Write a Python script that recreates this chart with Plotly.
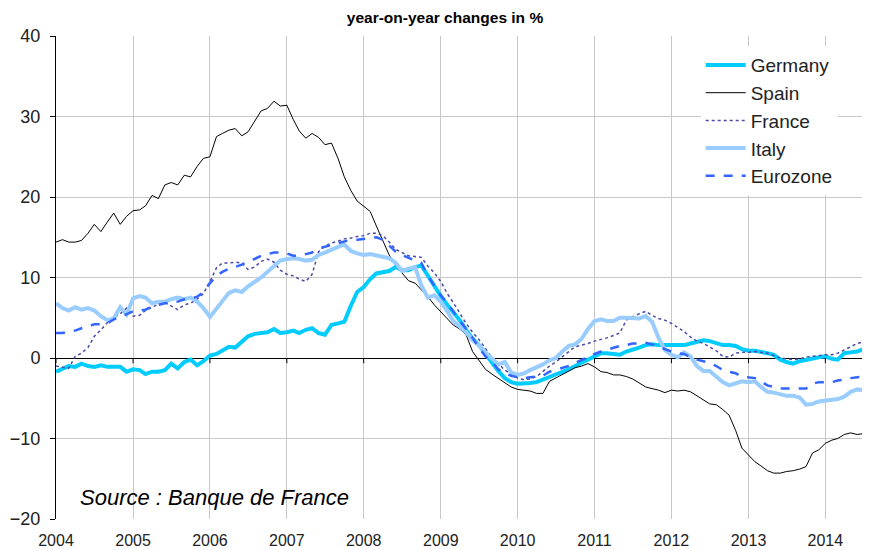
import pandas as pd
import plotly.graph_objects as go

start_month = "2004-01-01"
year_ticks = [2004, 2005, 2006, 2007, 2008, 2009, 2010, 2011, 2012, 2013, 2014]

germany = [
    -1.7, -1.3, -1.0, -1.1, -0.7, -1.0, -1.1, -0.9, -1.1, -1.1, -1.1, -1.7,
    -1.4, -1.5, -2.0, -1.7, -1.7, -1.5, -0.7, -1.3, -0.5, -0.2, -0.9, -0.4,
    0.3, 0.5, 0.9, 1.4, 1.3, 2.1, 2.7, 3.0, 3.1, 3.2, 3.6, 3.1,
    3.2, 3.4, 3.1, 3.5, 3.7, 3.1, 2.9, 4.1, 4.3, 4.5, 6.5, 8.2,
    8.8, 9.8, 10.5, 10.6, 10.8, 11.3, 10.9, 10.9, 11.3, 11.5, 10.2, 8.8,
    7.7, 6.6, 5.7, 4.7, 3.5, 2.4, 1.6, 0.5, -0.4, -1.6, -2.5, -3.0,
    -3.2, -3.2, -3.1, -3.0, -2.7, -2.3, -2.0, -1.7, -1.4, -1.0, -0.6, -0.3,
    0.2, 0.6, 0.6, 0.5, 0.4, 0.8, 1.0, 1.3, 1.6, 1.7, 1.6, 1.6,
    1.5, 1.5, 1.6, 1.8, 2.0, 2.2, 2.1, 1.9, 1.6, 1.6, 1.5, 1.1,
    0.9, 0.9, 0.8, 0.6, 0.4, -0.2, -0.5, -0.7, -0.4, -0.2, 0.0, 0.1,
    0.2, -0.1, -0.2, 0.6, 0.7, 0.8, 1.1, 1.1,
]

spain = [
    14.4, 14.7, 14.4, 14.4, 14.6, 15.5, 16.6, 15.7, 16.9, 18.0, 16.6, 17.6,
    18.3, 18.4, 18.9, 20.2, 19.8, 21.5, 21.8, 21.5, 22.7, 22.5, 23.8, 24.8,
    25.0, 27.5, 27.9, 28.3, 28.5, 27.6, 28.1, 29.4, 30.7, 31.0, 31.9, 31.3,
    31.4, 29.6, 28.2, 27.3, 27.9, 27.4, 26.5, 26.7, 24.8, 22.5, 20.8, 19.5,
    18.8, 18.2, 16.4, 14.6, 12.8, 11.5, 10.6, 9.6, 9.3, 8.5, 7.6, 6.6,
    5.7, 4.8, 4.1, 3.6, 2.9, 0.8, -0.3, -1.4, -2.0, -2.5, -3.0, -3.6,
    -3.9, -4.0, -4.1, -4.4, -4.4, -2.9, -2.5, -2.0, -1.6, -1.2, -1.0, -0.7,
    -1.1, -1.7, -1.8, -2.1, -2.1, -2.3, -2.6, -3.1, -3.6, -3.8, -4.0, -4.3,
    -4.0, -4.1, -4.0, -4.2, -4.7, -5.3, -5.7, -5.8, -6.4, -7.1, -9.0, -11.2,
    -12.0, -12.9, -13.4, -14.0, -14.3, -14.3, -14.1, -14.0, -13.8, -13.5, -11.8, -11.4,
    -10.6, -10.2, -10.0, -9.5, -9.3, -9.5, -9.4, -9.6,
]

france = [
    -1.0, -1.2, -1.3, 0.2, 0.6, 1.3, 2.7, 3.5, 4.4, 5.0, 5.5, 6.2,
    5.2, 5.3, 5.9, 6.3, 6.7, 6.9, 6.5, 6.0, 6.6, 6.8, 7.3, 8.0,
    9.5, 11.2, 11.8, 11.8, 11.9, 11.8, 11.0, 11.3, 12.0, 12.3, 11.9, 10.9,
    10.4, 10.2, 9.8, 9.5, 10.4, 13.2, 13.9, 14.3, 14.5, 14.8, 14.9, 15.1,
    15.2, 15.5, 15.5, 15.2, 14.4, 13.5, 13.1, 12.7, 12.6, 12.5, 11.4, 10.6,
    9.5, 8.0, 6.9, 5.5, 4.3, 3.2, 2.3, 1.2, 0.0, -0.7, -1.5, -2.0,
    -2.5, -2.7, -2.6, -2.3, -1.6, -1.0, -0.5, 0.2, 0.8, 1.4, 1.6, 1.8,
    2.1, 2.3, 2.5, 2.8, 3.1, 4.7, 5.1, 5.5, 5.8, 5.3, 4.9, 4.7,
    4.3, 3.8, 3.3, 2.6, 2.1, 1.8, 1.4, 0.9, 0.2, 0.1, 0.6, 0.7,
    0.7, 0.8, 0.7, 0.6, 0.3, 0.0, -0.1, -0.2, -0.1, 0.1, 0.2, 0.3,
    0.4, 0.4, 0.6, 1.0, 1.4, 1.8, 2.0, 2.1,
]

italy = [
    6.8, 6.2, 5.9, 6.3, 6.0, 6.2, 5.9, 5.2, 4.7, 4.9, 6.3, 5.4,
    7.4, 7.7, 7.5, 6.8, 7.0, 7.0, 7.3, 7.5, 7.3, 7.5, 7.0, 6.2,
    5.1, 6.2, 7.2, 8.1, 8.4, 8.2, 8.9, 9.4, 10.0, 10.7, 11.5, 12.1,
    12.3, 12.4, 12.3, 12.1, 12.2, 12.8, 13.1, 13.5, 13.8, 14.1, 13.3, 13.0,
    12.8, 12.9, 12.7, 12.5, 12.4, 11.8, 10.8, 11.1, 11.3, 9.0, 7.5, 7.8,
    7.0, 5.8, 4.6, 3.9, 3.2, 2.2, 1.6, 0.7, 0.0, -0.8, -0.5, -1.8,
    -2.1, -1.9, -1.5, -1.2, -0.8, -0.3, 0.0, 0.8, 1.5, 1.7, 2.4, 3.6,
    4.6, 4.8, 4.6, 4.6, 5.0, 5.0, 4.9, 4.9, 5.2, 4.5, 2.5, 1.0,
    0.4, 0.1, 0.7, 0.2, -1.0, -1.6, -1.6, -2.3, -3.0, -3.4, -3.2, -2.9,
    -3.0, -2.9, -3.6, -4.2, -4.3, -4.5, -4.7, -4.7, -4.9, -5.8, -5.7, -5.4,
    -5.3, -5.3, -5.1, -4.8, -4.2, -3.9, -4.0, -3.9,
]

eurozone = [
    3.1, 3.1, 3.3, 3.4, 3.7, 3.9, 4.2, 4.2, 4.3, 4.8, 5.1, 5.4,
    5.8, 5.9, 6.0, 6.4, 6.6, 6.8, 6.9, 7.0, 7.3, 7.4, 7.6, 8.2,
    9.3, 10.2, 10.7, 11.1, 11.3, 11.6, 12.0, 12.3, 12.7, 12.9, 13.1, 13.1,
    13.0, 12.7, 12.7, 12.9, 13.1, 13.6, 13.8, 14.1, 14.3, 14.5, 14.7, 14.7,
    14.8, 14.9, 15.0, 14.7, 14.0, 13.2, 12.8, 12.4, 12.1, 11.8, 10.2, 9.0,
    7.8, 6.8, 5.8, 4.8, 3.6, 2.5, 1.3, 0.2, -0.5, -1.4, -1.9, -2.2,
    -2.4, -2.5, -2.4, -2.3, -2.2, -1.7, -1.5, -1.3, -1.0, -0.6, -0.2, 0.2,
    0.5, 0.8, 1.0, 1.2, 1.5, 1.6, 1.8, 1.8, 1.9, 1.7, 1.4, 1.1,
    0.8, 0.6, 0.5, 0.1, -0.2, -0.4, -0.6, -1.0, -1.5, -1.7, -1.9, -2.3,
    -2.4, -2.5, -2.9, -3.4, -3.6, -3.8, -3.8, -3.8, -3.8, -3.8, -3.2, -3.0,
    -3.0, -3.0, -2.8, -2.7, -2.5, -2.4, -2.3, -2.1,
]

def months(n):
    return pd.date_range(start_month, periods=n, freq="MS")

FONT = "Liberation Sans, Arial, sans-serif"

fig = go.Figure()
series = [
    ("Germany", germany, dict(color="#00CCFF", width=4)),
    ("Spain", spain, dict(color="#000000", width=1)),
    ("France", france, dict(color="#4B4BA8", width=1.5, dash="dot")),
    ("Italy", italy, dict(color="#99CCFF", width=4)),
    ("Eurozone", eurozone, dict(color="#3366FF", width=2.5, dash="dash")),
]
for name, vals, line in series:
    fig.add_trace(go.Scatter(x=months(len(vals)), y=vals, name=name, mode="lines",
                             line=line, legendgroup=name))

tick_dates = [pd.Timestamp(f"{y}-01-01") for y in year_ticks]
shapes = [
    dict(type="line", xref="x", yref="y", x0=d, x1=d, y0=0, y1=-0.65,
         line=dict(color="black", width=1))
    for d in tick_dates
]

# the page body adds an 8px offset, so the figure is sized to fill the rest of the window
fig.update_layout(
    width=862, height=542,
    margin=dict(l=48, r=0, t=28, b=31),
    paper_bgcolor="white", plot_bgcolor="white",
    title=dict(text="<b>year-on-year changes in %</b>", x=0.393, xanchor="left",
               y=0.983, yanchor="middle", font=dict(family=FONT, size=15.5, color="#000000")),
    font=dict(family=FONT, color="#000000"),
    showlegend=True,
    legend=dict(x=0.792, y=0.979, xanchor="left", yanchor="top", bgcolor="white",
                font=dict(family=FONT, size=19, color="#222222"), itemwidth=40,
                tracegroupgap=0),
    shapes=shapes,
    annotations=[dict(text="<i>Source : Banque de France</i>", xref="paper", yref="y",
                      x=0.027, y=-17.3, xanchor="left", yanchor="middle", showarrow=False,
                      font=dict(family=FONT, size=22, color="#000000"))],
)
fig.update_xaxes(
    type="date",
    range=[pd.Timestamp(start_month), pd.Timestamp("2014-08-01")],
    tickvals=tick_dates, ticktext=[str(y) for y in year_ticks],
    showgrid=True, gridcolor="#C8C8C8", gridwidth=1,
    showline=False, ticks="", zeroline=False,
    tickfont=dict(family=FONT, size=16, color="#222222"),
    ticklabelstandoff=10,
)
fig.update_yaxes(
    range=[-20, 40], dtick=10, tick0=0,
    showgrid=True, gridcolor="#C8C8C8", gridwidth=1,
    zeroline=True, zerolinecolor="#000000", zerolinewidth=1,
    showline=True, linecolor="#000000", linewidth=1,
    ticks="outside", ticklen=5, tickcolor="#000000",
    tickfont=dict(family=FONT, size=18, color="#222222"),
    ticklabelstandoff=6,
)

fig.write_html("out.html")
